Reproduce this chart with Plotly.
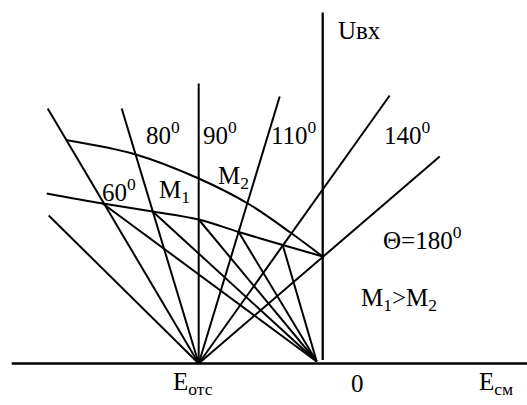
import plotly.graph_objects as go

# Diagram coordinates: E runs along the horizontal axis, U along the vertical
# one; the origin is where the two axes cross.
E_OTC = (-124, 0)      # cut-off bias point, common start of the angle rays
E_PIVOT = (-6, 2)      # common point of the fan from the lower curve

# Rays of constant cut-off angle, drawn from E_OTC to these ends
angle_labels = ["60", "80", "90", "110", "140", "180"]
ray_end_E = [-275, -201, -124, -43, 67, 117]
ray_end_U = [255, 255, 280, 267, 268, 207]

# Shallow extra ray on the left
shallow_end_E = -274
shallow_end_U = 148

# Curve M2 (upper) and curve M1 (lower)
upper_E = [-257, -187, -124, -74, -31, 0]
upper_U = [223.5, 209, 185, 159.5, 130, 107]
lower_E = [-276, -220, -170, -124, -84, -40, 0]
lower_U = [170, 160, 152, 144, 131.5, 118.5, 107]

# Axes extents
h_axis_E = [-311, 210]
v_axis_U = [3.5, 351]

FONT = dict(family="Liberation Serif", size=25, color="black")

fig = go.Figure()


def seg(xs, ys, width=2, shape="linear"):
    fig.add_trace(go.Scatter(x=xs, y=ys, mode="lines",
                             line=dict(color="black", width=width, shape=shape),
                             hoverinfo="skip", showlegend=False))


# axes
seg(h_axis_E, [0, 0], width=2.3)
seg([0, 0], v_axis_U, width=2.3)

# angle rays from the cut-off point
for ex, uy in zip(ray_end_E, ray_end_U):
    seg([E_OTC[0], ex], [E_OTC[1], uy])
seg([E_OTC[0], shallow_end_E], [E_OTC[1], shallow_end_U])

# fan from the lower curve crossings to the pivot point
for ex, uy in zip(lower_E[1:-1], lower_U[1:-1]):
    seg([ex, E_PIVOT[0]], [uy, E_PIVOT[1]])

# the two curves
seg(upper_E, upper_U, shape="spline")
seg(lower_E, lower_U, shape="spline")

labels = [
    ("60<sup>0</sup>", -222.7, 174, "left"),
    ("80<sup>0</sup>", -178.7, 230.5, "left"),
    ("90<sup>0</sup>", -122, 230.5, "left"),
    ("110<sup>0</sup>", -53.7, 230.5, "left"),
    ("140<sup>0</sup>", 59.6, 230.5, "left"),
    ("M<sub>1</sub>", -165.4, 172, "left"),
    ("M<sub>2</sub>", -106.4, 186, "left"),
    ("\u0398=180<sup>0</sup>", 58, 125.5, "left"),
    ("M<sub>1</sub>>M<sub>2</sub>", 36.3, 64.5, "left"),
    ("U\u0432\u0445", 13, 333, "left"),
    ("E<sub>\u043e\u0442\u0441</sub>", -152, -19.5, "left"),
    ("0", 34.8, -19.5, "center"),
    ("E<sub>\u0441\u043c</sub>", 154.6, -19.5, "left"),
]
for txt, x, y, anchor in labels:
    fig.add_annotation(x=x, y=y, text=txt, showarrow=False, font=FONT,
                       xanchor=anchor, yanchor="middle")

fig.update_layout(
    width=527, height=405,
    margin=dict(l=0, r=0, t=0, b=0),
    paper_bgcolor="white", plot_bgcolor="white",
    xaxis=dict(range=[-322.7, 204.3], visible=False, fixedrange=True),
    yaxis=dict(range=[-41.5, 363.5], visible=False, fixedrange=True),
)

fig.write_html("out.html")
